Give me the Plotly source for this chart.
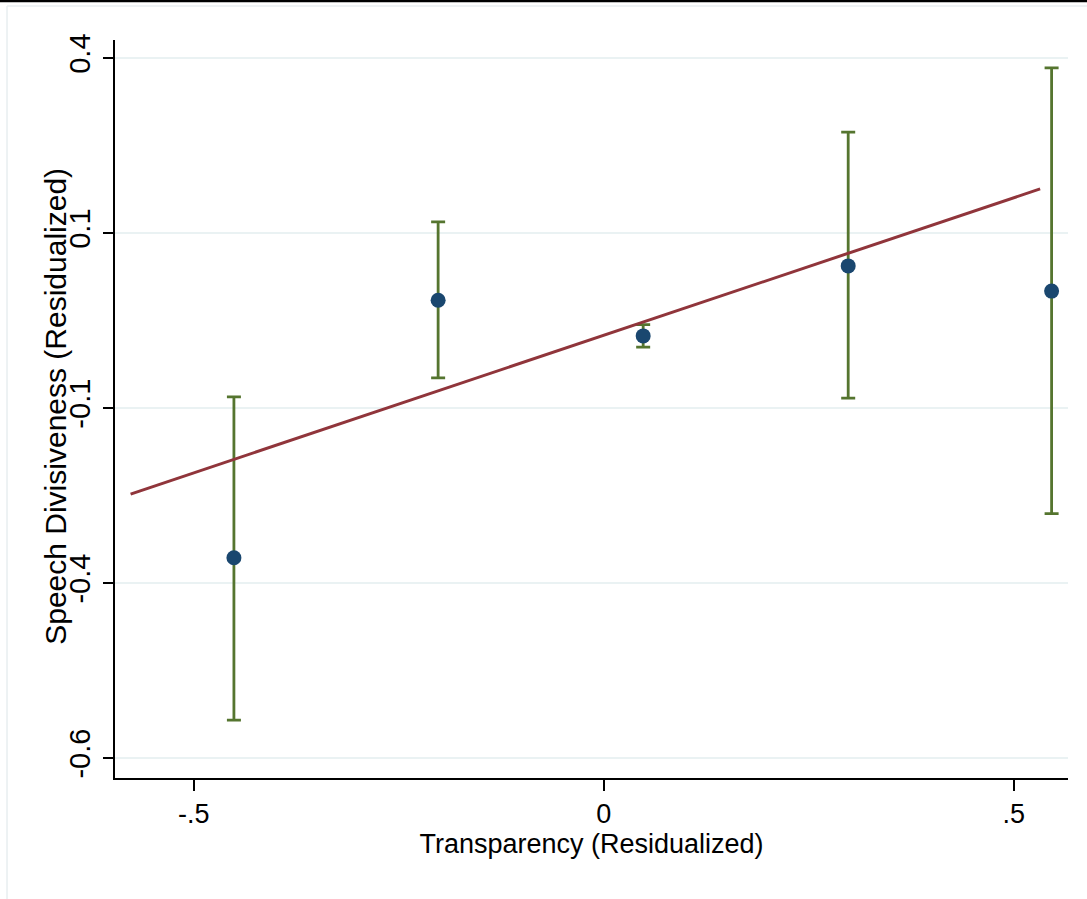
import plotly.graph_objects as go

# Binned scatter data
x_vals = [-0.451, -0.202, 0.048, 0.298, 0.546]
y_vals = [-0.339, 0.029, -0.022, 0.078, 0.042]
ci_hi = [-0.109, 0.141, -0.006, 0.269, 0.361]
ci_lo = [-0.571, -0.082, -0.038, -0.111, -0.276]

# Fitted line endpoints
fit_x = [-0.577, 0.532]
fit_y = [-0.248, 0.188]

# Axis ticks
x_tickvals = [-0.5, 0, 0.5]
x_ticktext = ["-.5", "0", ".5"]
y_tickvals = [-0.625, -0.375, -0.125, 0.125, 0.375]
y_ticktext = ["-0.6", "-0.4", "-0.1", "0.1", "0.4"]

err_plus = [h - y for h, y in zip(ci_hi, y_vals)]
err_minus = [y - l for l, y in zip(ci_lo, y_vals)]

FONT = "Liberation Sans, Arial, Helvetica, sans-serif"

fig = go.Figure()
fig.add_trace(go.Scatter(
    x=x_vals, y=y_vals, mode="markers",
    marker=dict(color="rgba(0,0,0,0)", size=1),
    error_y=dict(type="data", symmetric=False, array=err_plus, arrayminus=err_minus,
                 color="#55752f", thickness=2.8, width=7),
    hoverinfo="skip", showlegend=False,
))
fig.add_trace(go.Scatter(
    x=x_vals, y=y_vals, mode="markers",
    marker=dict(color="#1a476f", size=15, line=dict(width=0)),
    showlegend=False,
))
fig.add_trace(go.Scatter(
    x=fit_x, y=fit_y, mode="lines",
    line=dict(color="#90353b", width=3),
    showlegend=False,
))

fig.update_layout(
    width=1087, height=899,
    margin=dict(l=115, r=19, t=40, b=121),
    paper_bgcolor="white", plot_bgcolor="white",
    font=dict(family=FONT, color="black"),
    xaxis=dict(
        range=[-0.596, 0.566],
        tickvals=x_tickvals, ticktext=x_ticktext,
        ticks="outside", ticklen=11, tickwidth=1.5, tickcolor="black",
        tickfont=dict(size=27, family=FONT),
        showline=True, linecolor="black", linewidth=1.5,
        showgrid=False, zeroline=False,
        title=dict(text="Transparency (Residualized)", font=dict(size=27, family=FONT), standoff=1),
    ),
    yaxis=dict(
        range=[-0.6536, 0.4007],
        tickvals=y_tickvals, ticktext=y_ticktext,
        ticks="outside", ticklen=10, tickwidth=1.5, tickcolor="black",
        tickangle=-90, ticklabelstandoff=2,
        tickfont=dict(size=29, family=FONT),
        showline=True, linecolor="black", linewidth=1.5,
        showgrid=True, gridcolor="#eaf2f3", gridwidth=2,
        zeroline=False,
    ),
    annotations=[
        dict(text="Speech Divisiveness (Residualized)", textangle=-90,
             xref="paper", yref="paper", x=-0.0619, y=0.503,
             xanchor="center", yanchor="middle", showarrow=False,
             font=dict(size=30, family=FONT, color="black")),
    ],
    shapes=[
        dict(type="line", xref="paper", yref="paper", x0=-0.125, x1=1.025, y0=1.0528, y1=1.0528,
             line=dict(color="black", width=2.5)),
        dict(type="line", xref="paper", yref="paper", x0=-0.1133, x1=1.025, y0=1.046, y1=1.046,
             line=dict(color="#e8eef0", width=1.5)),
        dict(type="line", xref="paper", yref="paper", x0=-0.1133, x1=-0.1133, y0=-0.17, y1=1.046,
             line=dict(color="#e8eef0", width=1.5)),
    ],
)

fig.write_html("out.html", config={"displayModeBar": False},
               post_script="document.body.style.margin='0';")
